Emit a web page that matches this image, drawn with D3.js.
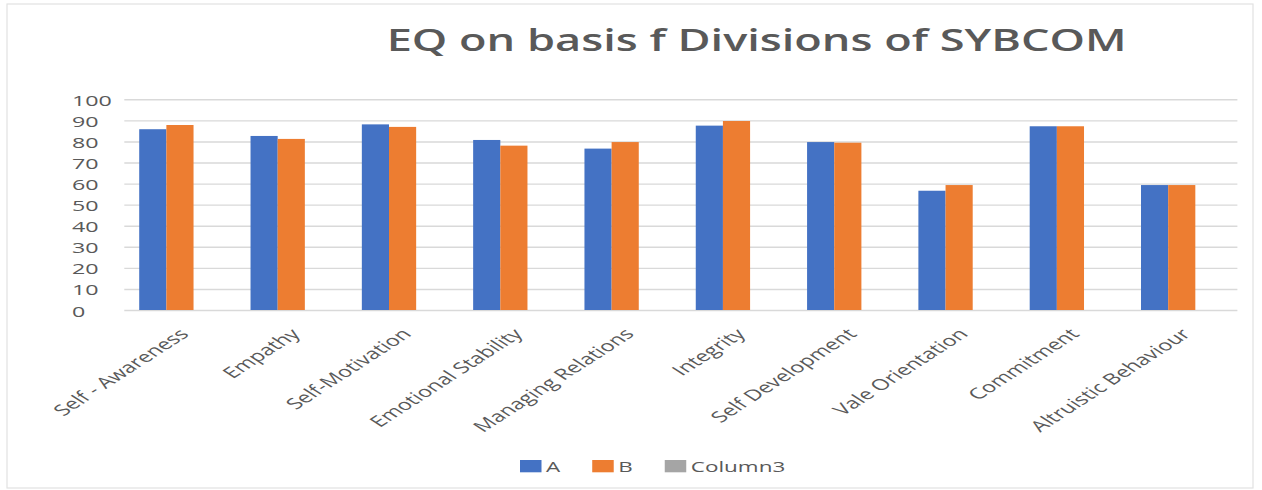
<!DOCTYPE html>
<html>
<head>
<meta charset="utf-8">
<script src="https://cdn.jsdelivr.net/npm/d3@7"></script>
<style>
  body { margin: 0; background: #fff; }
  text { font-family: "Open Sans", "Noto Sans", sans-serif; }
</style>
</head>
<body>
<svg id="chart" width="1262" height="490"></svg>
<script>
// Chart data
const chartTitle = "EQ on basis f Divisions of SYBCOM";
const categories = [
  "Self - Awareness", "Empathy", "Self-Motivation", "Emotional Stability",
  "Managing Relations", "Integrity", "Self Development", "Vale Orientation",
  "Commitment", "Altruistic Behaviour"
];
const seriesNames = ["A", "B", "Column3"];
const valuesA = [85.8, 82.6, 88.1, 80.7, 76.6, 87.5, 79.7, 56.6, 87.2, 59.3];
const valuesB = [87.8, 81.2, 86.9, 78.0, 79.7, 89.7, 79.4, 59.3, 87.2, 59.3];
const valuesColumn3 = [null, null, null, null, null, null, null, null, null, null];
const yTicks = [0, 10, 20, 30, 40, 50, 60, 70, 80, 90, 100];
const seriesColors = ["#4472C4", "#ED7D31", "#A5A5A5"];

const seriesValues = [valuesA, valuesB, valuesColumn3];
const rows = categories.map((c, i) => ({
  category: c,
  values: seriesNames.map((s, k) => ({ series: s, value: seriesValues[k][i] }))
}));

// Layout
const W = 1262, H = 490;
const plot = { left: 124.3, right: 1237.4, top: 99.3, bottom: 310 };
const textStretch = 1.55;   // wide, horizontally stretched lettering
const textColor = "#595959";
const gridColor = "#D9D9D9";

const svg = d3.select("#chart");

svg.append("rect").attr("x", 0).attr("y", 0).attr("width", W).attr("height", H).attr("fill", "#fff");
// chart frame
svg.append("rect")
  .attr("x", 7).attr("y", 4).attr("width", 1246).attr("height", 484)
  .attr("fill", "none").attr("stroke", "#E2E2E2").attr("stroke-width", 1.2);

// Scales
const x0 = d3.scaleBand().domain(categories).range([plot.left, plot.right])
  .paddingInner(0.268).paddingOuter(0.134);
const x1 = d3.scaleBand().domain(seriesNames).range([0, x0.bandwidth()]);
const y = d3.scaleLinear().domain([0, 100]).range([plot.bottom, plot.top]);

// Gridlines
const yAxis = d3.axisLeft(y).tickValues(yTicks).tickSize(-(plot.right - plot.left)).tickFormat("");
const gGrid = svg.append("g").attr("transform", `translate(${plot.left},0)`).call(yAxis);
gGrid.select(".domain").remove();
gGrid.selectAll(".tick line").attr("stroke", gridColor).attr("stroke-width", 1.4);

// Y tick labels
svg.append("g").selectAll("text").data(yTicks).join("text")
  .attr("transform", d => `translate(72,${y(d) + 6.5}) scale(${textStretch},1)`)
  .attr("font-size", 15)
  .attr("fill", textColor)
  .text(d => d);

// Bars
const groups = svg.append("g").selectAll("g").data(rows).join("g")
  .attr("transform", d => `translate(${x0(d.category)},0)`);
groups.selectAll("rect").data(d => d.values.filter(v => v.value != null)).join("rect")
  .attr("x", d => x1(d.series))
  .attr("width", x1.bandwidth())
  .attr("y", d => y(d.value))
  .attr("height", d => y(0) - y(d.value))
  .attr("fill", d => seriesColors[seriesNames.indexOf(d.series)]);

// Category labels, rotated
svg.append("g").selectAll("text").data(categories).join("text")
  .attr("transform", d => `translate(${x0(d) + x0.bandwidth() / 2 + 10},335) scale(${textStretch},1) rotate(-45)`)
  .attr("text-anchor", "end")
  .attr("font-size", 15.2)
  .attr("fill", textColor)
  .text(d => d);

// Title
svg.append("text")
  .attr("x", 756.7).attr("y", 50.7)
  .attr("text-anchor", "middle")
  .attr("font-size", 31)
  .attr("font-weight", 600)
  .attr("fill", textColor)
  .attr("textLength", 740)
  .attr("lengthAdjust", "spacingAndGlyphs")
  .text(chartTitle);

// Legend
const legend = svg.append("g");
let lx = 520;
seriesNames.forEach((s, i) => {
  legend.append("rect")
    .attr("x", lx).attr("y", 460).attr("width", 21.5).attr("height", 12.3)
    .attr("fill", seriesColors[i]);
  const t = legend.append("text")
    .attr("transform", `translate(${lx + 26},472.3) scale(${textStretch},1)`)
    .attr("font-size", 14.5)
    .attr("fill", textColor)
    .text(s);
  const w = t.node().getComputedTextLength() * textStretch;
  lx += 26 + w + 32;
});
</script>
</body>
</html>
